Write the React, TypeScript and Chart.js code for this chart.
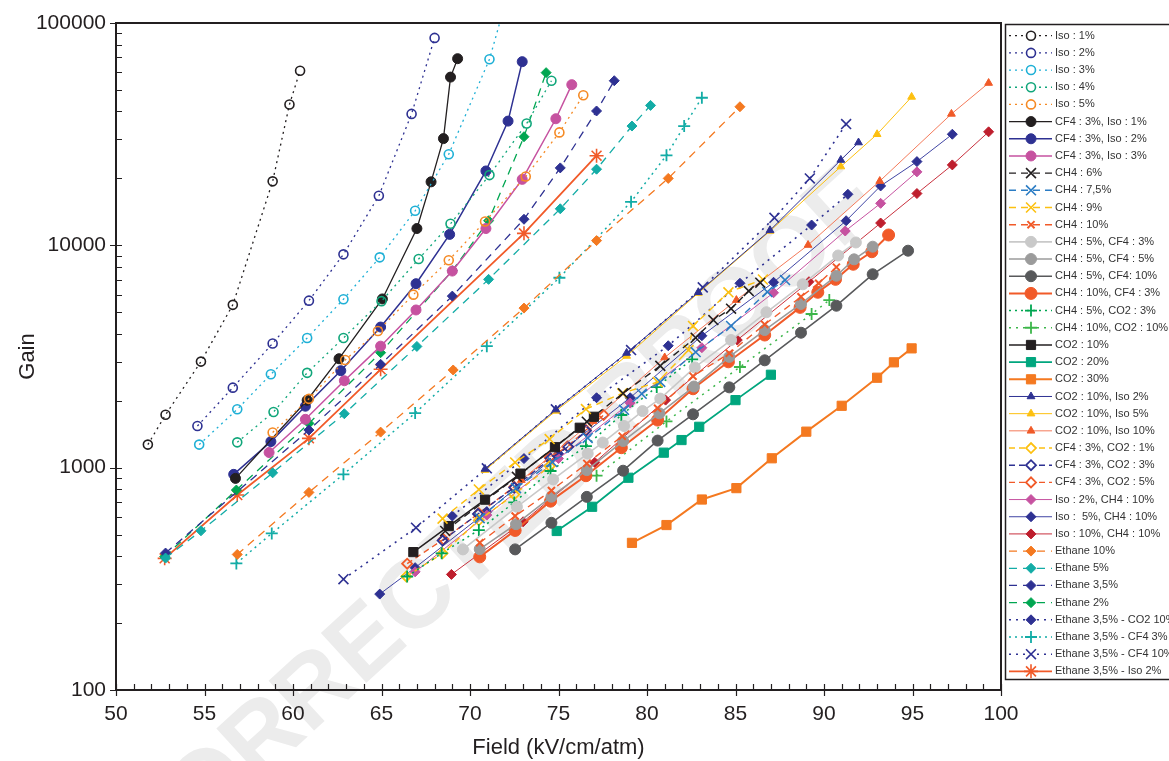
import React, { useEffect, useRef } from 'react';
import { Chart, registerables } from 'chart.js';
import { drawPoint } from 'chart.js/helpers';

Chart.register(...registerables);

type Pt = [number, number];

const FONT = '"Liberation Sans", Arial, Helvetica, sans-serif';

const xTickLabels = [50, 55, 60, 65, 70, 75, 80, 85, 90, 95, 100];
const yTickLabels = [100, 1000, 10000, 100000];

// ---- series values [field kV/cm/atm, gain] ----
const iso1: Pt[] = [[51.8, 1270], [52.8, 1730], [54.8, 3000], [56.6, 5400], [58.85, 19400], [59.8, 43000], [60.4, 61000]];
const iso2: Pt[] = [[54.6, 1540], [56.6, 2290], [58.85, 3620], [60.9, 5640], [62.85, 9110], [64.85, 16700], [66.7, 39000], [68.0, 85700]];
const iso3: Pt[] = [[54.7, 1270], [56.85, 1830], [58.75, 2630], [60.8, 3830], [62.85, 5720], [64.9, 8830], [66.9, 14300], [68.8, 25700], [71.1, 68700], [72.4, 160000]];
const iso4: Pt[] = [[56.85, 1300], [58.9, 1780], [60.8, 2670], [62.85, 3830], [65.0, 5610], [67.1, 8680], [68.9, 12500], [71.1, 20700], [73.2, 35300], [74.6, 55000]];
const iso5: Pt[] = [[58.85, 1440], [60.9, 2040], [62.95, 3050], [64.8, 4120], [66.8, 6000], [68.8, 8570], [70.85, 12800], [73.15, 20400], [75.05, 32200], [76.4, 47300]];
const cf4Iso1: Pt[] = [[56.75, 895], [60.8, 2010], [62.6, 3090], [65.05, 5740], [67.0, 11900], [67.8, 19300], [68.5, 30200], [68.9, 57100], [69.3, 69100]];
const cf4Iso2: Pt[] = [[56.65, 933], [58.75, 1310], [60.7, 1890], [62.7, 2730], [64.95, 4290], [66.95, 6720], [68.85, 11200], [70.9, 21600], [72.15, 36200], [72.95, 67000]];
const cf4Iso3: Pt[] = [[58.65, 1170], [60.7, 1650], [62.9, 2460], [64.95, 3520], [66.95, 5120], [69.0, 7660], [70.9, 11900], [72.95, 19800], [74.85, 37100], [75.75, 52800]];
const ch4_6: Pt[] = [[68.6, 519], [72.65, 910], [76.6, 1610], [78.65, 2160], [80.75, 2870], [82.75, 3840], [83.75, 4610], [84.75, 5190], [85.75, 6230], [86.4, 6790]];
const ch4_75: Pt[] = [[70.55, 593], [72.6, 809], [74.65, 1060], [76.65, 1360], [78.7, 1820], [79.7, 2150], [80.75, 2430], [82.75, 3310], [84.75, 4340], [86.8, 6170], [87.8, 6980]];
const ch4_9: Pt[] = [[68.45, 590], [70.5, 798], [72.55, 1056], [74.5, 1345], [76.55, 1835], [78.6, 2160], [80.6, 2430], [82.35, 3380], [82.6, 4340], [84.6, 6150], [86.55, 7020]];
const ch4_10: Pt[] = [[70.55, 460], [72.55, 606], [74.6, 789], [76.6, 1045], [78.6, 1386], [80.6, 1849], [82.6, 2580], [84.65, 3270], [86.65, 4410], [88.7, 5870], [89.7, 6750], [90.7, 7980]];
const ch4_5cf4_3: Pt[] = [[69.6, 429], [72.65, 667], [74.7, 885], [76.65, 1157], [77.5, 1297], [78.7, 1540], [79.75, 1797], [80.75, 2045], [82.7, 2825], [84.75, 3750], [86.75, 5000], [88.8, 6680], [90.8, 9000], [91.8, 10300]];
const ch4_5cf4_5: Pt[] = [[70.55, 430], [72.6, 557], [74.6, 740], [76.6, 975], [78.65, 1318], [80.7, 1755], [82.65, 2317], [84.65, 3150], [86.65, 4160], [88.7, 5450], [90.7, 7300], [91.7, 8650], [92.75, 9860]];
const ch4_5cf4_10: Pt[] = [[72.55, 429], [74.6, 565], [76.6, 739], [78.65, 969], [80.6, 1324], [82.6, 1738], [84.65, 2297], [86.65, 3040], [88.7, 4045], [90.7, 5350], [92.75, 7410], [94.75, 9460]];
const ch4_10cf4_3: Pt[] = [[70.55, 397], [72.55, 522], [74.55, 707], [76.55, 920], [78.55, 1230], [80.6, 1637], [82.6, 2264], [84.6, 2993], [86.65, 3950], [88.65, 5260], [89.65, 6150], [90.65, 7030], [91.65, 8220], [92.7, 9360], [93.65, 11130]];
const ch4_5co2_3: Pt[] = [[66.45, 324], [68.4, 412], [70.5, 524], [72.5, 698], [74.55, 966], [76.55, 1250], [78.55, 1725], [80.55, 2305], [82.55, 3070]];
const ch4_10co2_10: Pt[] = [[77.15, 920], [81.1, 1615], [85.25, 2836], [89.3, 4910], [90.3, 5670]];
const co2_10: Pt[] = [[66.8, 417], [68.8, 546], [70.85, 718], [72.85, 940], [74.8, 1236], [76.2, 1512], [77.0, 1694]];
const co2_20: Pt[] = [[74.9, 519], [76.9, 667], [78.95, 901], [80.95, 1168], [81.95, 1331], [82.95, 1527], [85.0, 2013], [87.0, 2618]];
const co2_30: Pt[] = [[79.15, 459], [81.1, 552], [83.1, 719], [85.05, 809], [87.05, 1102], [89.0, 1452], [91.0, 1898], [93.0, 2538], [93.95, 2977], [94.95, 3440]];
const co2Iso2: Pt[] = [[70.85, 986], [74.85, 1825], [78.85, 3280], [82.9, 6150], [86.95, 11680], [90.95, 24200], [91.95, 29000]];
const co2Iso5: Pt[] = [[70.85, 975], [74.85, 1800], [78.85, 3180], [82.9, 6100], [86.95, 11600], [90.95, 22600], [93.0, 31600], [94.95, 46500]];
const co2Iso10: Pt[] = [[72.9, 879], [76.95, 1620], [81.0, 3130], [85.05, 5670], [89.1, 10030], [93.15, 19450], [97.2, 39000], [99.3, 53700]];
const cf4Co2_1: Pt[] = [[66.4, 324], [68.45, 412], [70.5, 580], [72.5, 757], [74.5, 1016]];
const cf4Co2_3: Pt[] = [[68.45, 470], [70.45, 619], [72.5, 814], [74.55, 1099], [75.55, 1241], [76.55, 1465]];
const cf4Co2_5: Pt[] = [[66.45, 370], [68.5, 476], [70.5, 623], [72.5, 820], [74.5, 1112], [75.5, 1245], [76.55, 1476], [77.55, 1725]];
const iso2Ch4: Pt[] = [[66.9, 340], [70.95, 612], [75.0, 1099], [79.05, 1953], [83.1, 3463], [87.15, 6120], [91.2, 11600], [93.2, 15450], [95.25, 21400]];
const iso5Ch4: Pt[] = [[64.9, 270], [66.9, 355], [70.95, 634], [75.0, 1155], [79.05, 2063], [83.1, 3920], [87.15, 6820], [91.25, 12900], [93.2, 18500], [95.25, 23800], [97.25, 31600]];
const iso10Ch4: Pt[] = [[68.95, 331], [73.0, 571], [77.05, 1056], [81.05, 2013], [85.1, 3750], [89.15, 6860], [93.2, 12600], [95.25, 17100], [97.25, 23000], [99.3, 32400]];
const eth10: Pt[] = [[56.85, 407], [60.9, 774], [64.95, 1445], [69.05, 2750], [73.05, 5220], [77.15, 10500], [81.2, 20000], [85.25, 42000]];
const eth5: Pt[] = [[52.8, 392], [54.8, 520], [58.85, 948], [62.9, 1748], [67.0, 3510], [71.05, 7030], [75.1, 14600], [77.15, 22000], [79.15, 34400], [80.2, 42600]];
const eth35: Pt[] = [[52.8, 413], [60.9, 1476], [64.95, 2917], [69.0, 5910], [73.05, 13100], [75.1, 22300], [77.15, 40200], [78.15, 55000]];
const eth2: Pt[] = [[52.75, 398], [56.8, 793], [60.9, 1582], [64.95, 3290], [69.0, 7690], [71.05, 12900], [73.05, 30800], [74.3, 59800]];
const eth35Co2: Pt[] = [[69.0, 606], [73.05, 1099], [77.15, 2063], [81.2, 3535], [85.25, 6750], [89.3, 12340], [91.35, 16960]];
const eth35Cf4_3: Pt[] = [[56.8, 371], [58.8, 506], [62.85, 933], [66.9, 1760], [70.95, 3520], [75.05, 7150], [79.1, 15700], [81.1, 25400], [82.1, 34400], [83.1, 46100]];
const eth35Cf4_10: Pt[] = [[62.85, 315], [66.95, 537], [70.95, 993], [74.85, 1829], [79.1, 3380], [83.15, 6470], [87.2, 13300], [89.2, 20000], [91.25, 35100]];
const eth35Iso2: Pt[] = [[52.75, 391], [56.85, 753], [60.9, 1355], [64.95, 2770], [73.05, 11320], [77.15, 25300]];

// ---- styles ----
const BLACK = '#231f20';
const NAVY = '#2e3192';
const CYAN = '#1fb0d6';
const TGREEN = '#10a67a';
const ORANGE = '#f58a25';
const PINK = '#c652a0';
const MBLUE = '#2b7cc4';
const YELLOW = '#fcc010';
const RED = '#f15a29';
const GREEN = '#00a651';
const LGREEN = '#3cb64a';
const TEAL = '#13aca6';
const DKRED = '#be1e2d';
const ORANGE2 = '#f47920';

const DOT = [2, 4];
const DASH = [7, 5];
const LDASH = [8, 6];

type Style = { color: string; line?: string; dash?: number[]; lw?: number; marker: string; r: number; open?: boolean; pbw?: number };

function mk(label: string, data: Pt[], s: Style) {
  return {
    label,
    data,
    borderColor: s.line || s.color,
    borderWidth: s.lw ?? 1.4,
    borderDash: s.dash || [],
    pointStyle: s.marker,
    pointRadius: s.r,
    pointBackgroundColor: s.open ? 'rgba(255,255,255,0)' : s.color,
    pointBorderColor: s.color,
    pointBorderWidth: s.pbw ?? (s.open ? 1.6 : 1),
    tension: 0,
    fill: false,
  };
}

function buildDatasets() {
  return [
    mk('Iso : 1%', iso1, { color: BLACK, dash: DOT, lw: 1.3, marker: 'circle', r: 4.5, open: true }),
    mk('Iso : 2%', iso2, { color: NAVY, dash: DOT, lw: 1.3, marker: 'circle', r: 4.5, open: true }),
    mk('Iso : 3%', iso3, { color: CYAN, dash: DOT, lw: 1.3, marker: 'circle', r: 4.5, open: true }),
    mk('Iso : 4%', iso4, { color: TGREEN, dash: DOT, lw: 1.3, marker: 'circle', r: 4.5, open: true }),
    mk('Iso : 5%', iso5, { color: ORANGE, dash: DOT, lw: 1.3, marker: 'circle', r: 4.5, open: true }),
    mk('CF4 : 3%, Iso : 1%', cf4Iso1, { color: BLACK, lw: 1.3, marker: 'circle', r: 5 }),
    mk('CF4 : 3%, Iso : 2%', cf4Iso2, { color: NAVY, lw: 1.5, marker: 'circle', r: 5 }),
    mk('CF4 : 3%, Iso : 3%', cf4Iso3, { color: PINK, lw: 1.5, marker: 'circle', r: 5 }),
    mk('CH4 : 6%', ch4_6, { color: BLACK, dash: DASH, marker: 'crossRot', r: 7, pbw: 1.6 }),
    mk('CH4 : 7,5%', ch4_75, { color: MBLUE, dash: DASH, marker: 'crossRot', r: 7, pbw: 1.6 }),
    mk('CH4 : 9%', ch4_9, { color: YELLOW, dash: DASH, marker: 'crossRot', r: 7, pbw: 1.6 }),
    mk('CH4 : 10%', ch4_10, { color: RED, dash: DASH, marker: 'crossRot', r: 5, pbw: 2 }),
    mk('CH4 : 5%, CF4 : 3%', ch4_5cf4_3, { color: '#c9c9c9', lw: 1.6, marker: 'circle', r: 5.5 }),
    mk('CH4 : 5%, CF4 : 5%', ch4_5cf4_5, { color: '#9b9b9b', lw: 1.6, marker: 'circle', r: 5.5 }),
    mk('CH4 : 5%, CF4: 10%', ch4_5cf4_10, { color: '#58595b', lw: 1.6, marker: 'circle', r: 5.5 }),
    mk('CH4 : 10%, CF4 : 3%', ch4_10cf4_3, { color: RED, lw: 2, marker: 'circle', r: 6 }),
    mk('CH4 : 5%, CO2 : 3%', ch4_5co2_3, { color: GREEN, dash: DOT, lw: 1.5, marker: 'cross', r: 6, pbw: 1.8 }),
    mk('CH4 : 10%, CO2 : 10%', ch4_10co2_10, { color: LGREEN, dash: [2, 5], lw: 1.5, marker: 'cross', r: 6, pbw: 1.8 }),
    mk('CO2 : 10%', co2_10, { color: BLACK, lw: 1.5, marker: 'rect', r: 6.5 }),
    mk('CO2 : 20%', co2_20, { color: '#00a67e', lw: 1.8, marker: 'rect', r: 6.5 }),
    mk('CO2 : 30%', co2_30, { color: ORANGE2, lw: 2, marker: 'rect', r: 6.5 }),
    mk('CO2 : 10%, Iso 2%', co2Iso2, { color: NAVY, lw: 1, marker: 'triangle', r: 4.5 }),
    mk('CO2 : 10%, Iso 5%', co2Iso5, { color: '#fdc010', lw: 1, marker: 'triangle', r: 4.5 }),
    mk('CO2 : 10%, Iso 10%', co2Iso10, { color: '#f05a28', line: '#f47a5a', lw: 1, marker: 'triangle', r: 4.5 }),
    mk('CF4 : 3%, CO2 : 1%', cf4Co2_1, { color: '#fdc010', dash: [6, 4], marker: 'rectRot', r: 5, open: true, pbw: 1.8 }),
    mk('CF4 : 3%, CO2 : 3%', cf4Co2_3, { color: NAVY, dash: [6, 4], marker: 'rectRot', r: 5, open: true, pbw: 1.8 }),
    mk('CF4 : 3%, CO2 : 5%', cf4Co2_5, { color: RED, dash: [6, 4], marker: 'rectRot', r: 5, open: true, pbw: 1.8 }),
    mk('Iso : 2%, CH4 : 10%', iso2Ch4, { color: PINK, lw: 1, marker: 'rectRot', r: 5 }),
    mk('Iso :  5%, CH4 : 10%', iso5Ch4, { color: NAVY, line: '#4045a4', lw: 1, marker: 'rectRot', r: 5 }),
    mk('Iso : 10%, CH4 : 10%', iso10Ch4, { color: DKRED, line: '#c8303d', lw: 1, marker: 'rectRot', r: 5 }),
    mk('Ethane 10%', eth10, { color: ORANGE2, dash: LDASH, lw: 1.3, marker: 'rectRot', r: 5 }),
    mk('Ethane 5%', eth5, { color: TEAL, dash: LDASH, lw: 1.3, marker: 'rectRot', r: 5 }),
    mk('Ethane 3,5%', eth35, { color: NAVY, dash: LDASH, lw: 1.3, marker: 'rectRot', r: 5 }),
    mk('Ethane 2%', eth2, { color: GREEN, dash: LDASH, lw: 1.3, marker: 'rectRot', r: 5 }),
    mk('Ethane 3,5% - CO2 10%', eth35Co2, { color: NAVY, dash: [2, 5], lw: 1.6, marker: 'rectRot', r: 5 }),
    mk('Ethane 3,5% - CF4 3%', eth35Cf4_3, { color: TEAL, dash: DOT, lw: 1.5, marker: 'cross', r: 6, pbw: 1.8 }),
    mk('Ethane 3,5% - CF4 10%', eth35Cf4_10, { color: NAVY, dash: [2, 5], lw: 1.6, marker: 'crossRot', r: 7, pbw: 1.6 }),
    mk('Ethane 3,5% - Iso 2%', eth35Iso2, { color: RED, lw: 1.8, marker: 'star', r: 7, pbw: 1.6 }),
  ];
}

const watermarkPlugin = {
  id: 'watermark',
  beforeDraw(chart: any) {
    const ctx = chart.ctx;
    ctx.save();
    ctx.translate(866, 190);
    ctx.rotate(-0.74);
    ctx.font = `bold 98px ${FONT}`;
    ctx.fillStyle = '#ececec';
    ctx.textAlign = 'right';
    ctx.textBaseline = 'middle';
    ctx.fillText('UNCORRECTED PROOF', 0, 0);
    ctx.restore();
  },
};

const framePlugin = {
  id: 'frameTicks',
  afterDatasetsDraw(chart: any) {
    const ctx = chart.ctx;
    const { left, right, top, bottom } = chart.chartArea;
    const xs = chart.scales.x;
    const ys = chart.scales.y;
    ctx.save();
    ctx.strokeStyle = BLACK;
    ctx.lineWidth = 2;
    ctx.strokeRect(left, top, right - left, bottom - top);
    ctx.lineWidth = 1.2;
    ctx.beginPath();
    for (let v = 50; v <= 100; v++) {
      const px = Math.round(xs.getPixelForValue(v)) + 0.5;
      const major = v % 5 === 0;
      ctx.moveTo(px, bottom - 6);
      ctx.lineTo(px, major ? bottom + 6 : bottom);
    }
    for (let e = 2; e <= 5; e++) {
      for (let m = 1; m <= 9; m++) {
        const v = m * Math.pow(10, e);
        if (v > 100000) break;
        const py = Math.round(ys.getPixelForValue(v)) + 0.5;
        ctx.moveTo(left + 6, py);
        ctx.lineTo(m === 1 ? left - 6 : left, py);
      }
    }
    ctx.stroke();
    ctx.restore();
  },
};

const legendPlugin = {
  id: 'boxLegend',
  afterDraw(chart: any) {
    const ctx = chart.ctx;
    ctx.save();
    ctx.strokeStyle = BLACK;
    ctx.lineWidth = 1.5;
    ctx.strokeRect(1005.5, 24.5, 220, 655);
    chart.data.datasets.forEach((d: any, i: number) => {
      const y = 35.7 + i * 17.18;
      ctx.save();
      ctx.strokeStyle = d.borderColor;
      ctx.lineWidth = d.borderWidth;
      ctx.setLineDash(d.borderDash || []);
      ctx.beginPath();
      ctx.moveTo(1009, y);
      ctx.lineTo(1052, y);
      ctx.stroke();
      ctx.setLineDash([]);
      ctx.fillStyle = d.pointBackgroundColor === 'rgba(255,255,255,0)' ? '#ffffff' : d.pointBackgroundColor;
      ctx.strokeStyle = d.pointBorderColor;
      ctx.lineWidth = d.pointBorderWidth;
      drawPoint(ctx, { pointStyle: d.pointStyle, rotation: 0, radius: d.pointRadius, borderWidth: d.pointBorderWidth }, 1031, y);
      ctx.restore();
      ctx.fillStyle = '#333333';
      ctx.font = `11px ${FONT}`;
      ctx.textAlign = 'left';
      ctx.textBaseline = 'middle';
      ctx.fillText(d.label, 1055, y);
    });
    ctx.restore();
  },
};

const isPow10 = (v: number) => yTickLabels.some((t) => Math.abs(t - v) < 1e-6);

export default function App() {
  const ref = useRef<HTMLCanvasElement>(null);
  useEffect(() => {
    document.body.style.margin = '0';
    const chart = new Chart(ref.current as HTMLCanvasElement, {
      type: 'line',
      data: { datasets: buildDatasets() as any },
      options: {
        animation: false,
        responsive: false,
        devicePixelRatio: 1,
        events: [],
        layout: { padding: { top: 23, right: 168, left: 0, bottom: 0 } },
        plugins: { legend: { display: false }, tooltip: { enabled: false } },
        scales: {
          x: {
            type: 'linear',
            min: 50,
            max: 100,
            afterFit: (s: any) => { s.height = 71; },
            grid: { display: false, drawTicks: false },
            border: { display: false },
            ticks: {
              stepSize: 5,
              padding: 12,
              color: BLACK,
              font: { family: FONT, size: 21 },
              callback: (v: any) => (xTickLabels.includes(Number(v)) ? String(v) : null),
            },
            title: { display: true, text: 'Field (kV/cm/atm)', color: BLACK, font: { family: FONT, size: 22 }, padding: { top: 0, bottom: 0 } },
          },
          y: {
            type: 'logarithmic',
            min: 100,
            max: 100000,
            afterFit: (s: any) => { s.width = 116; },
            grid: { display: false, drawTicks: false },
            border: { display: false },
            ticks: {
              autoSkip: false,
              padding: 10,
              color: BLACK,
              font: { family: FONT, size: 21 },
              callback: (v: any) => (isPow10(Number(v)) ? String(Math.round(Number(v))) : null),
            },
            title: { display: true, text: 'Gain', color: BLACK, font: { family: FONT, size: 22 }, padding: { top: 15, bottom: 0 } },
          },
        },
      } as any,
      plugins: [watermarkPlugin, framePlugin, legendPlugin],
    });
    return () => chart.destroy();
  }, []);
  return <canvas ref={ref} width={1169} height={761} style={{ display: 'block' }} />;
}
